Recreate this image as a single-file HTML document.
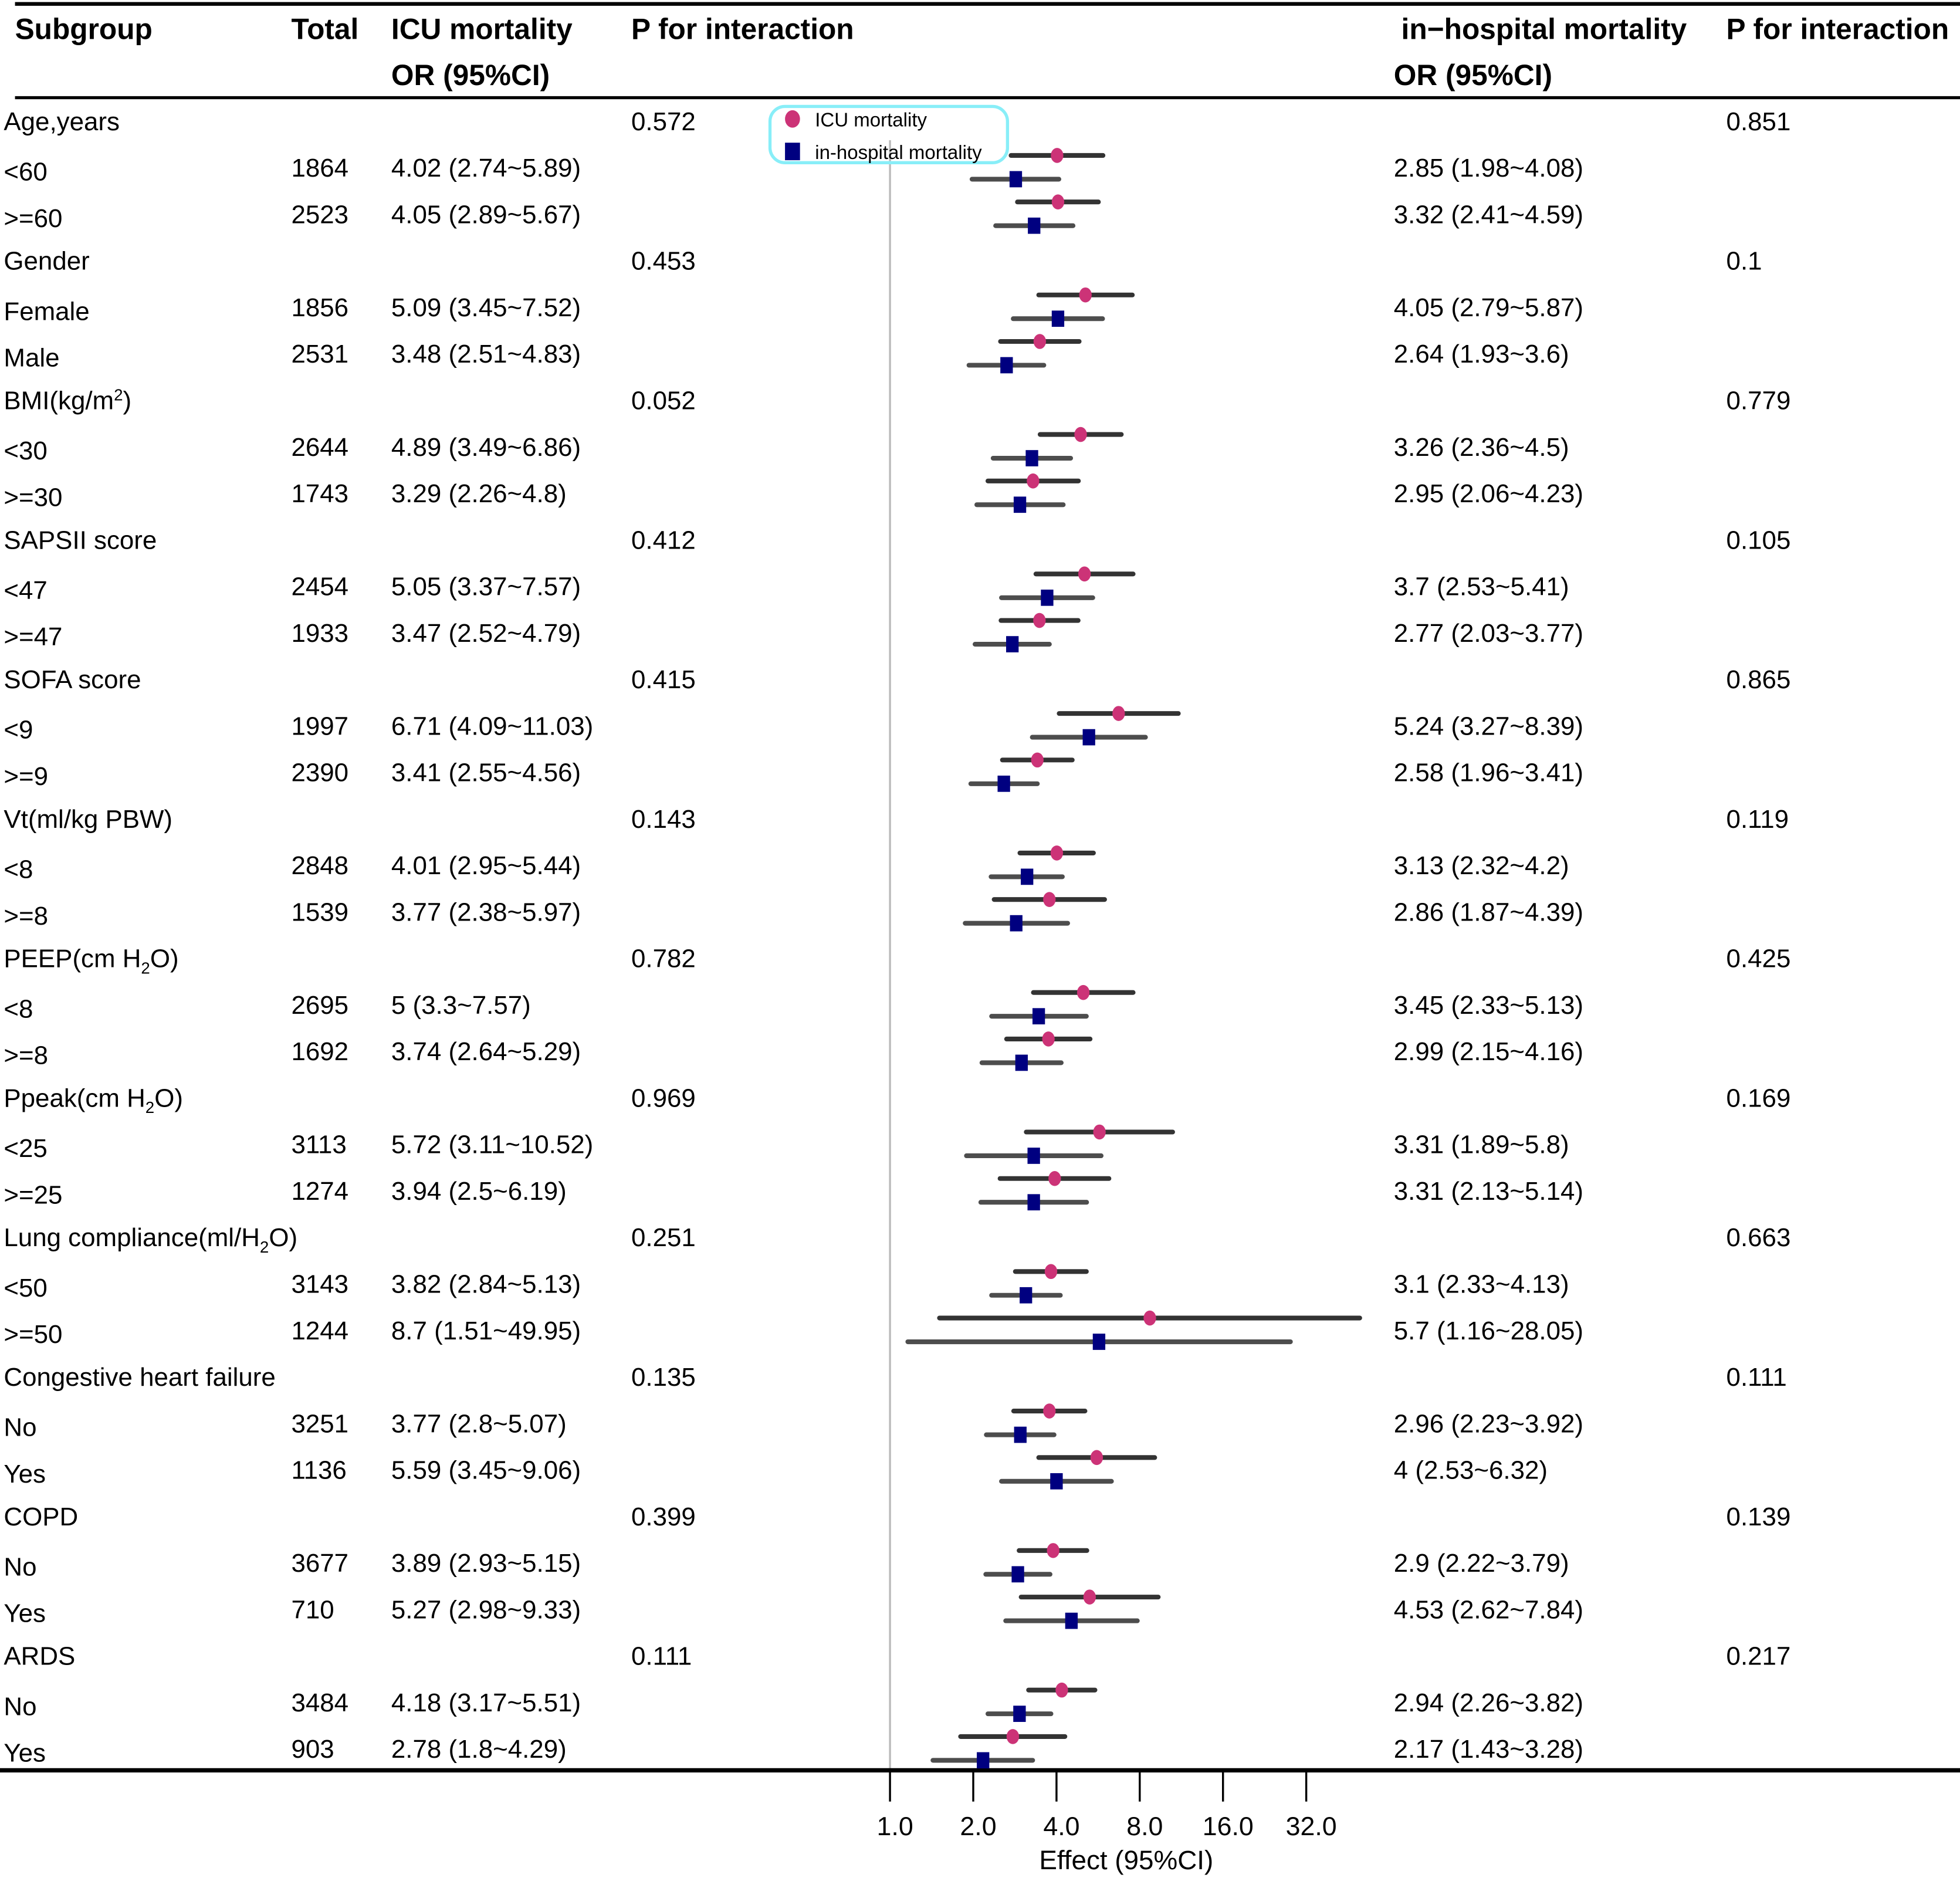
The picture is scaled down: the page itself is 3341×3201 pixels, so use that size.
<!DOCTYPE html>
<html><head><meta charset="utf-8"><style>
html,body{margin:0;padding:0;background:#fff}
svg{display:block}
text{font-family:"Liberation Sans",Arial,sans-serif;fill:#000}
</style></head><body>
<svg id="chart" width="3341" height="3201" viewBox="0 0 1568 1502" xmlns="http://www.w3.org/2000/svg">
<g id="static"></g>
<g id="rows"></g>
<g id="marks"></g>
</svg>
<script>
const groupNames=["Age,years","Gender","BMI(kg/m²)","SAPSII score","SOFA score","Vt(ml/kg PBW)","PEEP(cm H₂O)","Ppeak(cm H₂O)","Lung compliance(ml/H₂O)","Congestive heart failure","COPD","ARDS"];
const pIcu=["0.572","0.453","0.052","0.412","0.415","0.143","0.782","0.969","0.251","0.135","0.399","0.111"];
const pHosp=["0.851","0.1","0.779","0.105","0.865","0.119","0.425","0.169","0.663","0.111","0.139","0.217"];
const subLabels=[["<60",">=60"],["Female","Male"],["<30",">=30"],["<47",">=47"],["<9",">=9"],["<8",">=8"],["<8",">=8"],["<25",">=25"],["<50",">=50"],["No","Yes"],["No","Yes"],["No","Yes"]];
const totals=[[1864,2523],[1856,2531],[2644,1743],[2454,1933],[1997,2390],[2848,1539],[2695,1692],[3113,1274],[3143,1244],[3251,1136],[3677,710],[3484,903]];
const icuEst=[[4.02,4.05],[5.09,3.48],[4.89,3.29],[5.05,3.47],[6.71,3.41],[4.01,3.77],[5,3.74],[5.72,3.94],[3.82,8.7],[3.77,5.59],[3.89,5.27],[4.18,2.78]];
const icuLow=[[2.74,2.89],[3.45,2.51],[3.49,2.26],[3.37,2.52],[4.09,2.55],[2.95,2.38],[3.3,2.64],[3.11,2.5],[2.84,1.51],[2.8,3.45],[2.93,2.98],[3.17,1.8]];
const icuUp=[[5.89,5.67],[7.52,4.83],[6.86,4.8],[7.57,4.79],[11.03,4.56],[5.44,5.97],[7.57,5.29],[10.52,6.19],[5.13,49.95],[5.07,9.06],[5.15,9.33],[5.51,4.29]];
const hospEst=[[2.85,3.32],[4.05,2.64],[3.26,2.95],[3.7,2.77],[5.24,2.58],[3.13,2.86],[3.45,2.99],[3.31,3.31],[3.1,5.7],[2.96,4],[2.9,4.53],[2.94,2.17]];
const hospLow=[[1.98,2.41],[2.79,1.93],[2.36,2.06],[2.53,2.03],[3.27,1.96],[2.32,1.87],[2.33,2.15],[1.89,2.13],[2.33,1.16],[2.23,2.53],[2.22,2.62],[2.26,1.43]];
const hospUp=[[4.08,4.59],[5.87,3.6],[4.5,4.23],[5.41,3.77],[8.39,3.41],[4.2,4.39],[5.13,4.16],[5.8,5.14],[4.13,28.05],[3.92,6.32],[3.79,7.84],[3.82,3.28]];
const tickVals=[1,2,4,8,16,32];
const tickLabels=["1.0","2.0","4.0","8.0","16.0","32.0"];

const NS="http://www.w3.org/2000/svg";
function xScale(v){return 712+66.6*Math.log2(v);}
function rowY(i){return 97+i*37.2;}
function mk(tag,attrs,parent,txt){const e=document.createElementNS(NS,tag);for(const k in attrs)e.setAttribute(k,attrs[k]);if(txt!==undefined)e.textContent=txt;parent.appendChild(e);return e;}
const S=document.getElementById('static'),R=document.getElementById('rows'),M=document.getElementById('marks');
const FS=20.6;

let l=mk('line',{x1:12,y1:3,x2:1568,y2:3,stroke:'#000','stroke-width':3},S);


l=mk('line',{x1:12,y1:78,x2:1568,y2:78,stroke:'#000','stroke-width':2.5},S);


l=mk('line',{x1:712,y1:112,x2:712,y2:1415,stroke:'#bbb','stroke-width':1.6},S);


l=mk('line',{x1:0,y1:1416,x2:1568,y2:1416,stroke:'#000','stroke-width':3.5},S);



const heads=[["Subgroup",12,31,'header-subgroup'],["Total",233,31,'header-total'],["ICU mortality",313,31,'header-icu'],["OR (95%CI)",313,68,'header-icu-or'],["P for interaction",505,31,'header-p-icu'],["in−hospital mortality",1121,31,'header-hospital'],["OR (95%CI)",1115,68,'header-hospital-or'],["P for interaction",1381,31,'header-p-hospital']];
heads.forEach(h=>{const t=mk('text',{x:h[1],y:h[2],'font-size':23.3,'font-weight':'bold'},S,h[0]);

});

tickVals.forEach((v,i)=>{const x=xScale(v);
const tk=mk('line',{x1:x,y1:1416,x2:x,y2:1441,stroke:'#000','stroke-width':1.6},S);


const t=mk('text',{x:x+4,y:1468,'font-size':21,'text-anchor':'middle'},S,tickLabels[i]);

});
let at=mk('text',{x:901,y:1495,'font-size':21.5,'text-anchor':'middle'},S,"Effect (95%CI)");



function fmt(e,lo,up){return e+" ("+lo+"~"+up+")";}
function addLabel(parent,x,y,str,name){
  const t=mk('text',{x:x,y:y,'font-size':FS},parent);
  
  
  const m=str.match(/^(.*?)([²₂])(.*)$/);
  if(m){mk('tspan',{},t,m[1]);
    if(m[2]==='²'){mk('tspan',{dy:-7,'font-size':13},t,'2');}
    else{mk('tspan',{dy:5,'font-size':13},t,'2');}
    mk('tspan',{dy:m[2]==='²'?7:-5},t,m[3]);}
  else t.textContent=str;
  return t;}

groupNames.forEach((g,gi)=>{
  const y=rowY(gi*3);
  addLabel(R,3,y+7,g,'group-label');
  let t=mk('text',{x:505,y:y+7,'font-size':FS},R,pIcu[gi]);
  
  
  t=mk('text',{x:1381,y:y+7,'font-size':FS},R,pHosp[gi]);
  
  
  for(let s=0;s<2;s++){
    const ry=rowY(gi*3+1+s);
    addLabel(R,3,ry+10,subLabels[gi][s],'subgroup-label');
    t=mk('text',{x:233,y:ry+7,'font-size':FS},R,String(totals[gi][s]));
    
    
    t=mk('text',{x:313,y:ry+7,'font-size':FS},R,fmt(icuEst[gi][s],icuLow[gi][s],icuUp[gi][s]));
    
    
    t=mk('text',{x:1115,y:ry+7,'font-size':FS},R,fmt(hospEst[gi][s],hospLow[gi][s],hospUp[gi][s]));
    
    
    const yi=ry-10, yh=ry+9;
    let ln=mk('line',{x1:xScale(icuLow[gi][s]),y1:yi,x2:xScale(icuUp[gi][s]),y2:yi,stroke:'#333','stroke-width':3.8,'stroke-linecap':'round'},M);
    
    
    let c=mk('ellipse',{cx:xScale(icuEst[gi][s]),cy:yi,rx:5,ry:6,fill:'#cc3377'},M);
    
    
    ln=mk('line',{x1:xScale(hospLow[gi][s]),y1:yh,x2:xScale(hospUp[gi][s]),y2:yh,stroke:'#4d4d4d','stroke-width':3.8,'stroke-linecap':'round'},M);
    
    
    let q=mk('rect',{x:xScale(hospEst[gi][s])-5,y:yh-6.5,width:10,height:13,fill:'#000080'},M);
    
    
  }
});

const lg=mk('g',{},S);


mk('rect',{x:616,y:85,width:190,height:45,rx:12,fill:'none',stroke:'#88eef8','stroke-width':2.5},lg);
let le=mk('ellipse',{cx:634,cy:95,rx:6,ry:7,fill:'#cc3377'},lg);


le=mk('text',{x:652,y:101,'font-size':15.5},lg,"ICU mortality");


le=mk('rect',{x:628,y:114,width:12,height:14,fill:'#000080'},lg);


le=mk('text',{x:652,y:127,'font-size':15.5},lg,"in-hospital mortality");


</script>
</body></html>
